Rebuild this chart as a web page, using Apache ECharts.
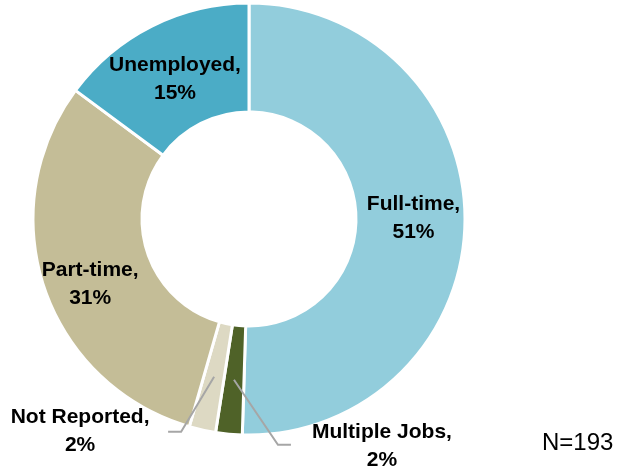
<!DOCTYPE html>
<html>
<head>
<meta charset="utf-8">
<script src="https://cdn.jsdelivr.net/npm/echarts@6/dist/echarts.min.js"></script>
<style>
  html, body { margin: 0; padding: 0; background: #fff; }
  #chart { width: 619px; height: 473px; }
</style>
</head>
<body>
<div id="chart"></div>
<script>
// Employment status of respondents (percent of N=193)
const categories = ['Full-time', 'Multiple Jobs', 'Not Reported', 'Part-time', 'Unemployed'];
const percents = [51, 2, 2, 31, 15];
const sliceColors = ['#92CDDC', '#4F6228', '#DDD9C3', '#C4BD97', '#4BACC6'];
const sampleNote = 'N=193';

const CENTER = [249, 219];
const R_IN = 107;
const R_OUT = 216;
const R_MID = (R_IN + R_OUT) / 2;

// Small slices get outside labels with bent leader lines that start mid-ring.
const calloutStyle = {
  'Multiple Jobs': { bend: [44, 65], tail: 13, label: [91, 1] },
  'Not Reported': { bend: [-33, 55], tail: -13, label: [-88, 0] }
};
const insideOffsets = {
  'Full-time': [0, -3],
  'Part-time': [-3, 12],
  'Unemployed': [0, 7]
};

const labelFont = {
  fontFamily: 'Liberation Sans',
  fontWeight: 'bold',
  fontSize: 21,
  lineHeight: 28,
  color: '#000',
  align: 'center'
};
const labelText = p => p.name + ',\n' + p.value + '%';

// Ring with inside labels for the large slices
const ringData = categories.map((name, i) => ({
  name: name,
  value: percents[i],
  itemStyle: { color: sliceColors[i] },
  label: calloutStyle[name]
    ? { show: false }
    : { show: true, position: 'inside', offset: insideOffsets[name] }
}));

// Transparent overlay ring carrying the callouts so the leader lines sit above the slices
const calloutData = categories.map((name, i) => ({
  name: name,
  value: percents[i],
  label: { show: !!calloutStyle[name] },
  labelLine: { show: !!calloutStyle[name] }
}));

const chart = echarts.init(document.getElementById('chart'), null, { renderer: 'canvas' });

chart.setOption({
  animation: false,
  title: {
    text: sampleNote,
    left: 542,
    top: 431,
    padding: 0,
    textStyle: {
      fontFamily: 'Liberation Sans',
      fontWeight: 'normal',
      fontSize: 24,
      color: '#000'
    }
  },
  series: [{
    type: 'pie',
    z: 2,
    center: CENTER,
    radius: [R_IN, R_OUT],
    startAngle: 90,
    clockwise: true,
    avoidLabelOverlap: false,
    itemStyle: { borderColor: '#fff', borderWidth: 3 },
    label: Object.assign({ formatter: labelText }, labelFont),
    labelLine: { show: false },
    data: ringData
  }, {
    type: 'pie',
    z: 5,
    silent: true,
    center: CENTER,
    radius: [R_IN, R_OUT],
    startAngle: 90,
    clockwise: true,
    avoidLabelOverlap: false,
    itemStyle: { color: 'rgba(0,0,0,0)', borderWidth: 0 },
    label: Object.assign({ position: 'outside', formatter: labelText }, labelFont),
    labelLine: {
      show: true,
      lineStyle: { color: '#A6A6A6', width: 2 }
    },
    labelLayout: function (params) {
      const cs = calloutStyle[categories[params.dataIndex]];
      if (!cs || !params.labelLinePoints) return {};
      const edge = params.labelLinePoints[0];
      const k = R_MID / R_OUT;
      const start = [CENTER[0] + (edge[0] - CENTER[0]) * k, CENTER[1] + (edge[1] - CENTER[1]) * k];
      const bend = [start[0] + cs.bend[0], start[1] + cs.bend[1]];
      const end = [bend[0] + cs.tail, bend[1]];
      return {
        x: end[0] + cs.label[0],
        y: end[1] + cs.label[1],
        align: 'center',
        verticalAlign: 'middle',
        labelLinePoints: [start, bend, end]
      };
    },
    data: calloutData
  }]
});
</script>
</body>
</html>
